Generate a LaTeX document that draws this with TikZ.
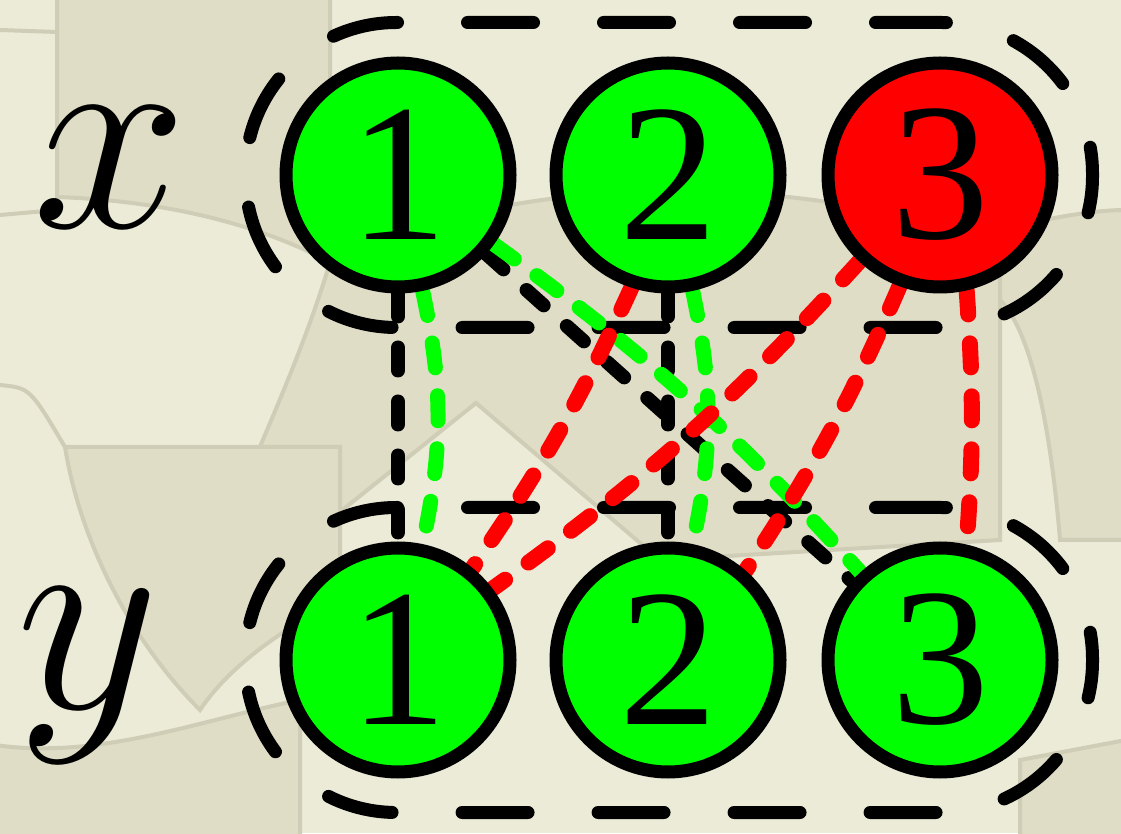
\documentclass[tikz,border=0pt]{standalone}
\usepackage{fontspec}
\newfontfamily\numfont{Liberation Serif}
\usetikzlibrary{fit,backgrounds}

\definecolor{paper}{HTML}{ECEBD8}
\definecolor{paperdark}{HTML}{DFDDC6}
\definecolor{paperline}{HTML}{CFCDB6}
\definecolor{okgreen}{HTML}{00FF00}
\definecolor{badred}{HTML}{FF0000}

\begin{document}
\begin{tikzpicture}[x=1pt,y=1pt,
    elem/.style={circle,draw,line width=13pt,minimum size=224pt,inner sep=0pt,font=\numfont\fontsize{196}{196}\selectfont},
    good/.style={elem,fill=okgreen},
    bad/.style={elem,fill=badred},
    setbox/.style={draw,line width=13pt,dash pattern=on 66pt off 70pt,line cap=round,rounded corners=151pt,inner sep=34pt},
    link/.style={line width=14pt,dash pattern=on 23pt off 31pt,line cap=round},
    greenlink/.style={link,okgreen,line width=15pt,dash pattern=on 25pt off 28pt},
    redlink/.style={link,badred,line width=16pt,dash pattern=on 24pt off 29pt},
    var/.style={font=\fontsize{24.88}{30}\selectfont,scale=11.2,inner sep=0pt}]
  \useasboundingbox (0,0) rectangle (1121,833);

  % x row
  \node[good] (x1) at (398,658) {1};
  \node[good] (x2) at (668,658) {2};
  \node[bad] (x3) at (940,658) {3};
  % y row
  \node[good] (y1) at (398,173) {1};
  \node[good] (y2) at (668,173) {2};
  \node[good] (y3) at (940,173) {3};

  \node[var] (lx) at (110,665) {$x$};
  \node[var] (ly) at (88,157) {$y$};

  \begin{scope}[on background layer]
    \fill[paper] (0,0) rectangle (1121,833);
    % paper texture
    \begin{scope}[yshift=833pt,yscale=-1,draw=paperline,line width=4pt]
      \filldraw[fill=paperdark] (57,-5) -- (57,197) .. controls (140,200) and (240,215) .. (330,262) -- (330,-5);
      \filldraw[fill=paperdark] (330,262) .. controls (450,200) and (700,150) .. (1000,240) -- (1000,540)
        -- (660,560) -- (476,403) -- (280,560) -- (250,470) .. controls (280,400) and (310,330) .. (330,262);
      \filldraw[fill=paperdark] (65,447) -- (340,447) -- (340,600) .. controls (260,640) and (220,680) .. (200,710)
        .. controls (130,640) and (80,540) .. (65,447);
      \filldraw[fill=paperdark] (-5,745) .. controls (100,760) and (200,720) .. (300,700) -- (300,840) -- (-5,840);
      \filldraw[fill=paperdark] (1000,230) .. controls (1060,215) and (1100,210) .. (1126,210) -- (1126,540) -- (1060,540)
        .. controls (1050,420) and (1030,330) .. (1000,300) -- cycle;
      \filldraw[fill=paperdark] (1020,840) -- (1020,760) -- (1126,740) -- (1126,840);
      \draw (0,30) -- (57,32);
      \draw (0,215) -- (57,210);
      \draw (0,385) .. controls (30,388) .. (65,447);
    \end{scope}

    \node[setbox,fit=(x1)(x3)] (fx) {};
    \node[setbox,fit=(y1)(y3)] (fy) {};

    % black pairs
    \draw[link] (x1) -- (y1);
    \draw[link] (x2) -- (y2);
    \draw[link] (x1) -- (y3);
    % green pairs
    \draw[greenlink] (x1) to[bend left=12] (y1);
    \draw[greenlink] (x2) to[bend left=12] (y2);
    \draw[greenlink] (x1) to[bend left=6] (y3);
    % red pairs
    \draw[redlink] (x2.252) to[bend left=5] (y1.51);
    \draw[redlink] (x3.227) to[bend left=6] (y1.37);
    \draw[redlink] (x3.250) to[bend left=5] (y2.49);
    \draw[redlink] (x3.283) to[bend left=4] (y3.77);
  \end{scope}
\end{tikzpicture}
\end{document}
